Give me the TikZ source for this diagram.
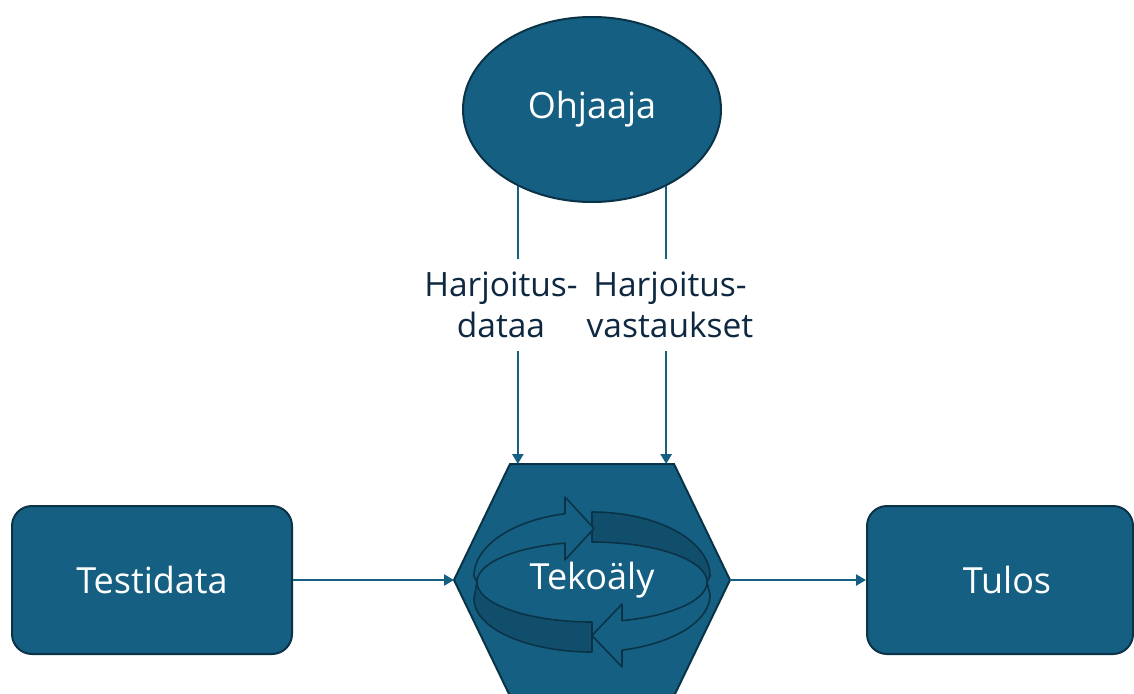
\documentclass[tikz,border=0pt]{standalone}
\usepackage{fontspec}
\setmainfont{Open Sans}
\usetikzlibrary{arrows.meta,shapes.geometric}
\definecolor{accent}{HTML}{156082}
\definecolor{edgecol}{HTML}{0B3347}
\definecolor{shade}{HTML}{114E6B}
\definecolor{labtext}{HTML}{0E2841}
\begin{document}
\begin{tikzpicture}[x=1pt,y=-1pt,
  box/.style={draw=edgecol, line width=2pt, fill=accent, rounded corners=20pt, text=white,
    font=\fontsize{36}{43}\selectfont, inner sep=0pt},
  oval/.style={ellipse, draw=edgecol, line width=2pt, fill=accent, text=white,
    font=\fontsize{36}{43}\selectfont, inner sep=0pt},
  conn/.style={draw=accent, line width=2.5pt},
  arr/.style={conn, -{Triangle[length=10pt,width=11pt]}},
  lab/.style={fill=white, text=labtext, align=center, font=\fontsize{33.5}{41}\selectfont,
    inner sep=0pt, minimum height=92pt},
  loopedge/.style={draw=edgecol, line width=1.6pt, line join=round},
]
\useasboundingbox (0,0) rectangle (1134,693);
\clip (0,0) rectangle (1134,693);

% nodes
\node[oval, minimum width=258pt, minimum height=185pt] (ohj) at (592,109.5) {Ohjaaja};
\node[box, minimum width=280pt, minimum height=148pt] (test) at (152,580) {Testidata};
\node[box, minimum width=266pt, minimum height=148pt] (tul) at (1000,580) {\hspace*{14pt}Tulos};
\node[minimum width=276pt, minimum height=232pt, inner sep=0pt, outer sep=0pt] (tek) at (592,580) {};

% hexagon body
\draw[draw=edgecol, line width=2pt, fill=accent, line join=miter]
  (tek.west) -- ([xshift=56pt]tek.north west) -- ([xshift=-56pt]tek.north east)
  -- (tek.east) -- ([xshift=-56pt]tek.south east) -- ([xshift=56pt]tek.south west) -- cycle;

% circular arrows inside the hexagon
% upper-right shaded band
\filldraw[loopedge, fill=shade]
  plot[domain=270:360, samples=40, smooth] ({592+118*cos(\x)},{576+64*sin(\x)})
  -- plot[domain=360:270, samples=40, smooth] ({592+115*cos(\x)},{582+40*sin(\x)}) -- cycle;
% lower-left shaded band
\filldraw[loopedge, fill=shade]
  plot[domain=90:180, samples=40, smooth] ({592+118*cos(\x)},{599+53*sin(\x)})
  -- plot[domain=180:90, samples=40, smooth] ({592+115*cos(\x)},{582+40*sin(\x)}) -- cycle;
% upper-left arrow
\filldraw[loopedge, fill=accent]
  plot[domain=180:256.77, samples=40, smooth] ({592+118*cos(\x)},{576+64*sin(\x)})
  -- (565,497) -- (594,528.5) -- (565,560)
  -- plot[domain=256.42:180, samples=40, smooth] ({592+115*cos(\x)},{582+40*sin(\x)}) -- cycle;
% lower-right arrow
\filldraw[loopedge, fill=accent]
  plot[domain=0:74.88, samples=40, smooth] ({592+115*cos(\x)},{582+40*sin(\x)})
  -- (622,604) -- (592,635.5) -- (622,667)
  -- plot[domain=75.27:0, samples=40, smooth] ({592+118*cos(\x)},{595+57*sin(\x)}) -- cycle;

\node[text=white, font=\fontsize{36}{43}\selectfont, inner sep=0pt] (tektxt) at (tek) {Tekoäly};

% labels
\node[lab] (l1) at (501,305) {Harjoitus-\\dataa};
\node[lab] (l2) at (670,305) {Harjoitus-\\vastaukset};

% connectors
\draw[conn] (ohj.226.7) -- (ohj.226.7 |- l1.north);
\draw[arr] (ohj.226.7 |- l1.south) -- (ohj.226.7 |- tek.north);
\draw[conn] (ohj.314) -- (ohj.314 |- l2.north);
\draw[arr] (ohj.314 |- l2.south) -- (ohj.314 |- tek.north);
\draw[arr] (test.east) -- (tek.west);
\draw[arr] (tek.east) -- (tul.west);
\end{tikzpicture}
\end{document}
